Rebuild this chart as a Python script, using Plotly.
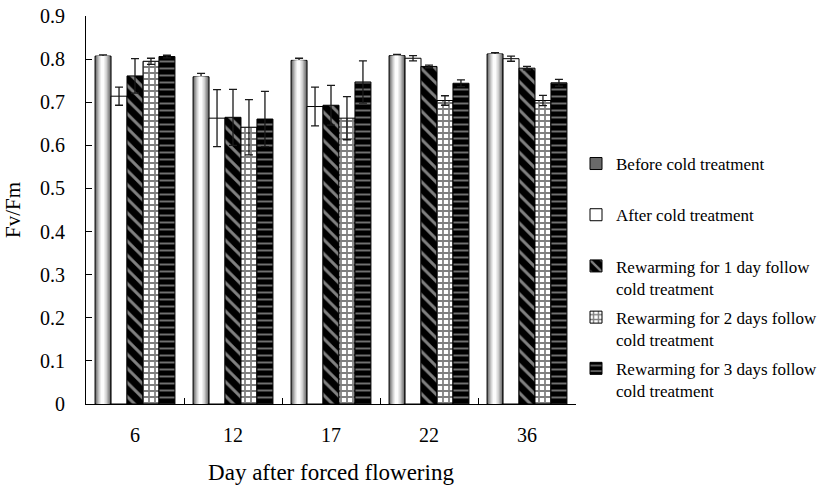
import plotly.graph_objects as go

days = ["6", "12", "17", "22", "36"]
series_names = [
    "Before cold treatment<br>&nbsp;",
    "After cold treatment<br>&nbsp;",
    "Rewarming for 1 day follow<br>cold treatment",
    "Rewarming for 2 days follow<br>cold treatment",
    "Rewarming for 3 days follow<br>cold treatment",
]
before = [0.807, 0.759, 0.797, 0.808, 0.812]
before_err = [0.003, 0.008, 0.005, 0.003, 0.003]
after = [0.714, 0.663, 0.690, 0.802, 0.801]
after_err = [0.021, 0.066, 0.045, 0.006, 0.006]
rw1 = [0.761, 0.665, 0.693, 0.783, 0.779]
rw1_err = [0.040, 0.065, 0.046, 0.003, 0.004]
rw2 = [0.795, 0.642, 0.663, 0.704, 0.704]
rw2_err = [0.007, 0.064, 0.050, 0.011, 0.012]
rw3 = [0.806, 0.661, 0.747, 0.744, 0.745]
rw3_err = [0.003, 0.064, 0.049, 0.008, 0.008]

values = [before, after, rw1, rw2, rw3]
errors = [before_err, after_err, rw1_err, rw2_err, rw3_err]

FONT = "Liberation Serif, 'Times New Roman', serif"
BW = 0.163
START = -2.5 * BW

fig = go.Figure()

# gradient layers for the "before" bars (cylinder look)
grad = [(1.0, "#6a6a6a"), (0.84, "#8e8e8e"), (0.68, "#b2b2b2"),
        (0.52, "#d2d2d2"), (0.36, "#eaeaea"), (0.2, "#fcfcfc")]

for k in range(5):
    off = START + k * BW
    err = dict(type="data", array=errors[k], visible=True,
               color="#1a1a1a", thickness=1.3, width=4)
    common = dict(x=days, y=values[k], name=series_names[k], offset=off,
                  width=BW, error_y=err, legendgroup=str(k))
    if k == 0:
        fig.add_trace(go.Bar(**common,
                             marker=dict(color=grad[0][1], line=dict(color="black", width=1))))
        for frac, col in grad[1:]:
            w = BW * frac
            fig.add_trace(go.Bar(
                x=days, y=values[k], offset=off + (BW - w) / 2 - BW * 0.04 * (1 - frac),
                width=w, showlegend=False, hoverinfo="skip", legendgroup=str(k),
                marker=dict(color=col, line=dict(width=0))))
    elif k == 1:
        fig.add_trace(go.Bar(**common,
                             marker=dict(color="white", line=dict(color="black", width=1))))
    elif k == 2:
        fig.add_trace(go.Bar(**common, marker=dict(
            color="black", line=dict(color="black", width=1),
            pattern=dict(shape="\\", fgcolor="white", bgcolor="black",
                         size=10, solidity=0.3))))
    elif k == 3:
        fig.add_trace(go.Bar(**common, marker=dict(
            color="white", line=dict(color="black", width=1),
            pattern=dict(shape="+", fgcolor="black", bgcolor="white",
                         size=6, solidity=0.5))))
    else:
        fig.add_trace(go.Bar(**common, marker=dict(
            color="black", line=dict(color="black", width=1),
            pattern=dict(shape="-", fgcolor="#e0e0e0", bgcolor="black",
                         size=7, solidity=0.28))))

fig.update_layout(
    width=821, height=490,
    margin=dict(l=86, r=245, t=16, b=86, autoexpand=False),
    paper_bgcolor="white", plot_bgcolor="white",
    barmode="overlay",
    font=dict(family=FONT, size=18, color="black"),
    showlegend=True,
    legend=dict(x=1.0, xanchor="left", y=0.665, yanchor="top",
                font=dict(family=FONT, size=17, color="black"),
                valign="top", tracegroupgap=4, itemwidth=30,
                bgcolor="rgba(0,0,0,0)"),
    xaxis=dict(
        type="category", showline=True, linecolor="black", linewidth=1,
        ticks="inside", tickson="boundaries", ticklen=6, tickcolor="black",
        showgrid=False, zeroline=False,
        title=dict(text="Day after forced flowering", font=dict(family=FONT, size=23), standoff=18),
        tickfont=dict(family=FONT, size=20), ticklabelstandoff=13,
    ),
    yaxis=dict(
        range=[0, 0.9], dtick=0.1, tick0=0, showline=True, linecolor="black",
        linewidth=1, ticks="inside", ticklen=6, tickcolor="black",
        showgrid=False, zeroline=False, tickformat=".1~f",
        title=dict(text="Fv/Fm", font=dict(family=FONT, size=21), standoff=13),
        tickfont=dict(family=FONT, size=20), ticklabelstandoff=16,
    ),
)

fig.write_html("out.html")
